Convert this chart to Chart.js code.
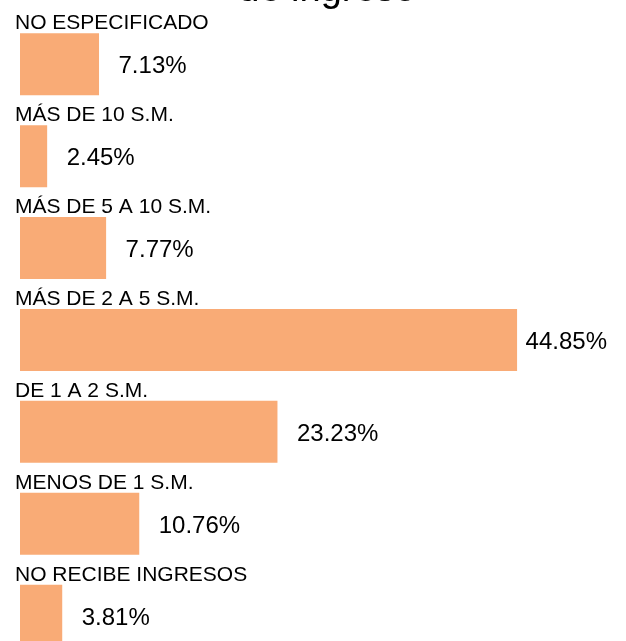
<!DOCTYPE html>
<html>
<head>
<meta charset="utf-8">
<script src="https://cdn.jsdelivr.net/npm/chart.js@4.4.0/dist/chart.umd.min.js"></script>
<style>
  html, body { margin: 0; padding: 0; background: #fff; overflow: hidden; width: 626px; height: 641px; }
  #wrap { position: absolute; left: 0; top: -90px; width: 634px; height: 770px; }
</style>
</head>
<body>
<div id="wrap"><canvas id="grafica" width="634" height="770"></canvas></div>
<script>
const tituloLineas = ['Nivel', 'de ingreso'];
const categorias = [
    'NO ESPECIFICADO',
    'MÁS DE 10 S.M.',
    'MÁS DE 5 A 10 S.M.',
    'MÁS DE 2 A 5 S.M.',
    'DE 1 A 2 S.M.',
    'MENOS DE 1 S.M.',
    'NO RECIBE INGRESOS'
];
const porcentajes = [7.13, 2.45, 7.77, 44.85, 23.23, 10.76, 3.81];

const fuente = '"Liberation Sans", Arial, Helvetica, sans-serif';

// etiquetas encima de cada barra y porcentaje a la derecha
const etiquetasPlugin = {
    id: 'etiquetas',
    afterDatasetsDraw(chart) {
        const ctx = chart.ctx;
        const meta = chart.getDatasetMeta(0);
        ctx.save();
        ctx.fillStyle = '#000';
        ctx.textAlign = 'left';
        ctx.textBaseline = 'alphabetic';
        meta.data.forEach((barra, i) => {
            const arriba = barra.y - barra.height / 2;
            ctx.font = '21px ' + fuente;
            ctx.fillText(categorias[i], 15, arriba - 4);

            const texto = porcentajes[i].toFixed(2) + '%';
            ctx.font = '24px ' + fuente;
            const ancho = ctx.measureText(texto).width;
            let x = barra.x + 19.5;
            if (x + ancho > 607) x = 607 - ancho;
            ctx.fillText(texto, x, barra.y + 9);
        });
        ctx.restore();
    }
};

new Chart(document.getElementById('grafica').getContext('2d'), {
    type: 'bar',
    data: {
        labels: categorias,
        datasets: [{
            data: porcentajes,
            backgroundColor: '#f9ab76',
            borderWidth: 0,
            barPercentage: 0.675,
            categoryPercentage: 1
        }]
    },
    options: {
        indexAxis: 'y',
        responsive: false,
        animation: false,
        layout: { padding: { left: 20, right: 0, top: 0, bottom: 18.4 } },
        scales: {
            x: { display: false, min: 0, max: 55.4 },
            y: { display: false }
        },
        plugins: {
            legend: { display: false },
            tooltip: { enabled: false },
            title: {
                display: true,
                text: tituloLineas,
                color: '#000',
                font: { family: fuente, size: 38, weight: 'normal', lineHeight: 1.2 },
                padding: { top: 12, bottom: 5.1 }
            }
        }
    },
    plugins: [etiquetasPlugin]
});
</script>
</body>
</html>
